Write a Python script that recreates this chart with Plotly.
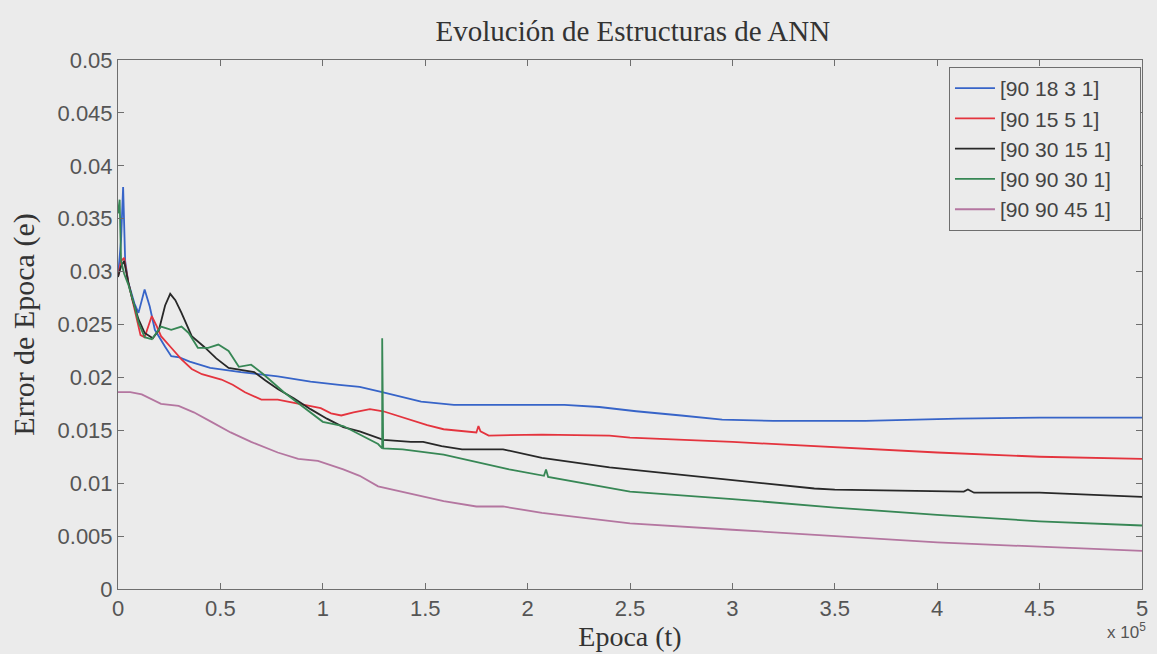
import plotly.graph_objects as go

# ---------------- data ----------------
labels = ["[90 18 3 1]", "[90 15 5 1]", "[90 30 15 1]", "[90 90 30 1]", "[90 90 45 1]"]

x_blue = [0, 1500, 2500, 3500, 5000, 8000, 10000, 13000, 15500, 18000, 23000, 26000, 30000, 35000,
          45000, 60000, 78000, 94000, 108000, 118000, 129000, 148000, 164000, 218000, 235000, 253000,
          275000, 295000, 320000, 365000, 390000, 410000, 450000, 500000]
y_blue = [0.0295, 0.033, 0.038, 0.031, 0.029, 0.027, 0.0261, 0.0283, 0.0267, 0.0245, 0.0229, 0.0220,
          0.0219, 0.0215, 0.0209, 0.0205, 0.0201, 0.0196, 0.0193, 0.0191, 0.0186, 0.0177, 0.0174,
          0.0174, 0.0172, 0.0168, 0.0164, 0.0160, 0.0159, 0.0159, 0.0160, 0.0161, 0.0162, 0.0162]

x_red = [0, 1500, 3000, 5000, 8000, 11000, 13000, 16500, 19000, 21000, 26000, 31000, 36000, 41000,
         50500, 56000, 62000, 70000, 78000, 88000, 94000, 99000, 104000, 109000, 115000, 123000,
         129500, 136000, 143000, 151000, 159000, 168000, 175000, 176000, 177000, 181000, 207000,
         240000, 250000, 300000, 350000, 400000, 450000, 500000]
y_red = [0.0295, 0.0310, 0.0313, 0.0290, 0.0265, 0.0240, 0.0238, 0.0258, 0.0248, 0.0239, 0.0228,
         0.0217, 0.0208, 0.0203, 0.0198, 0.0193, 0.0186, 0.0179, 0.0179, 0.0175, 0.0173, 0.0171,
         0.0166, 0.0164, 0.0167, 0.0170, 0.0168, 0.0164, 0.0160, 0.0155, 0.0151, 0.0149, 0.0148,
         0.0154, 0.0149, 0.0145, 0.0146, 0.0145, 0.0143, 0.0139, 0.0134, 0.0129, 0.0125, 0.0123]

x_black = [0, 1500, 3000, 5000, 7000, 10000, 13000, 17000, 20000, 23000, 25500, 28000, 31000, 36000,
           42000, 48000, 54000, 60000, 66500, 72000, 78000, 86000, 94000, 102000, 110000, 118000,
           129600, 143000, 149000, 158000, 168000, 188000, 207000, 240000, 250000, 300000, 340000,
           350000, 400000, 413000, 415000, 418000, 450000, 500000]
y_black = [0.0295, 0.0305, 0.0310, 0.0290, 0.0274, 0.0255, 0.0242, 0.0237, 0.0245, 0.0268, 0.0279,
           0.0273, 0.0261, 0.0239, 0.0229, 0.0218, 0.0209, 0.0207, 0.0205, 0.0197, 0.0189, 0.0180,
           0.0170, 0.0161, 0.0153, 0.0149, 0.0141, 0.0139, 0.0139, 0.0135, 0.0132, 0.0132, 0.0124,
           0.0115, 0.0113, 0.0103, 0.0095, 0.0094, 0.0092, 0.0092, 0.0094, 0.0091, 0.0091, 0.0087]

x_green = [0, 800, 1500, 3000, 5000, 8000, 10000, 13000, 16500, 21000, 26000, 31000, 34500, 39000,
           44000, 49000, 54000, 59000, 65000, 71000, 81000, 94000, 100000, 110000, 118000, 127000,
           129000, 129000, 129500, 139000, 159000, 175000, 191000, 208000, 209000, 210000, 240000,
           250000, 300000, 350000, 400000, 450000, 500000]
y_green = [0.0355, 0.0368, 0.0310, 0.0298, 0.0288, 0.0268, 0.0252, 0.0238, 0.0236, 0.0248, 0.0245,
           0.0248, 0.0242, 0.0228, 0.0228, 0.0231, 0.0225, 0.0210, 0.0212, 0.0203, 0.0186, 0.0167,
           0.0158, 0.0154, 0.0146, 0.0137, 0.0133, 0.0237, 0.0133, 0.0132, 0.0127, 0.0120, 0.0113,
           0.0107, 0.0113, 0.0106, 0.0096, 0.0092, 0.0085, 0.0077, 0.0070, 0.0064, 0.0060]

x_purple = [0, 6000, 11600, 16000, 21000, 29600, 37000, 45600, 55000, 65000, 78000, 88000, 97600,
            110000, 118000, 127000, 143000, 159000, 175000, 188000, 207000, 240000, 250000, 300000,
            350000, 400000, 450000, 500000]
y_purple = [0.0186, 0.0186, 0.0184, 0.0180, 0.0175, 0.0173, 0.0167, 0.0158, 0.0148, 0.0139, 0.0129,
            0.0123, 0.0121, 0.0113, 0.0107, 0.0097, 0.0090, 0.0083, 0.0078, 0.0078, 0.0072, 0.0064,
            0.0062, 0.0056, 0.0050, 0.0044, 0.0040, 0.0036]

x_tickvals = [0, 50000, 100000, 150000, 200000, 250000, 300000, 350000, 400000, 450000, 500000]
x_ticktext = ["0", "0.5", "1", "1.5", "2", "2.5", "3", "3.5", "4", "4.5", "5"]
y_tickvals = [0, 0.005, 0.01, 0.015, 0.02, 0.025, 0.03, 0.035, 0.04, 0.045, 0.05]
y_ticktext = ["0", "0.005", "0.01", "0.015", "0.02", "0.025", "0.03", "0.035", "0.04", "0.045", "0.05"]

colors = ["rgb(55,100,200)", "rgb(228,52,62)", "rgb(40,40,40)", "rgb(55,135,85)", "rgb(180,118,160)"]

series = [(x_blue, y_blue), (x_red, y_red), (x_black, y_black), (x_green, y_green), (x_purple, y_purple)]

BG = "#ebebeb"
AXC = "#6e6e6e"
SANS = "Liberation Sans, Arial, sans-serif"
SERIF = "Liberation Serif, Times New Roman, serif"

fig = go.Figure()
for i, ((xs, ys), name, c) in enumerate(zip(series, labels, colors)):
    fig.add_trace(go.Scatter(x=xs, y=ys, mode="lines", name=name + "\u00a0\u00a0\u00a0\u00a0",
                             legendgroup=f"g{i}", line=dict(color=c, width=1.8)))

fig.update_layout(
    width=1157, height=654,
    paper_bgcolor=BG, plot_bgcolor=BG,
    margin=dict(l=118, r=9, t=60, b=64),
    title=dict(text="Evolución de Estructuras de ANN", x=0.547, xanchor="center",
               y=1 - 31 / 654, yanchor="middle",
               font=dict(family=SERIF, size=29, color="#333333")),
    showlegend=True,
    legend=dict(x=0.999, xanchor="right", y=0.987, yanchor="top",
                bgcolor=BG, bordercolor=AXC, borderwidth=1,
                font=dict(family=SANS, size=21, color="#444444"),
                traceorder="grouped", tracegroupgap=0, itemwidth=40),
    xaxis=dict(range=[0, 500000], tickvals=x_tickvals, ticktext=x_ticktext,
               showgrid=False, zeroline=False, showline=True, linecolor=AXC, linewidth=1,
               mirror="ticks", ticks="inside", ticklen=6, tickcolor=AXC,
               tickfont=dict(family=SANS, size=22, color="#555555"),
               title=dict(text="Epoca (t)", font=dict(family=SERIF, size=28, color="#333333"),
                          standoff=4)),
    yaxis=dict(range=[0, 0.05], tickvals=y_tickvals, ticktext=y_ticktext,
               showgrid=False, zeroline=False, showline=True, linecolor=AXC, linewidth=1,
               mirror="ticks", ticks="inside", ticklen=6, tickcolor=AXC,
               tickfont=dict(family=SANS, size=22, color="#555555"),
               title=dict(text="Error de Epoca (e)", font=dict(family=SERIF, size=30, color="#333333"),
                          standoff=14)),
)

fig.add_annotation(text="x 10<sup>5</sup>", xref="paper", yref="paper", x=1.006, y=-0.08,
                   xanchor="right", yanchor="middle", showarrow=False,
                   font=dict(family=SANS, size=17, color="#555555"))

fig.write_html("out.html")
